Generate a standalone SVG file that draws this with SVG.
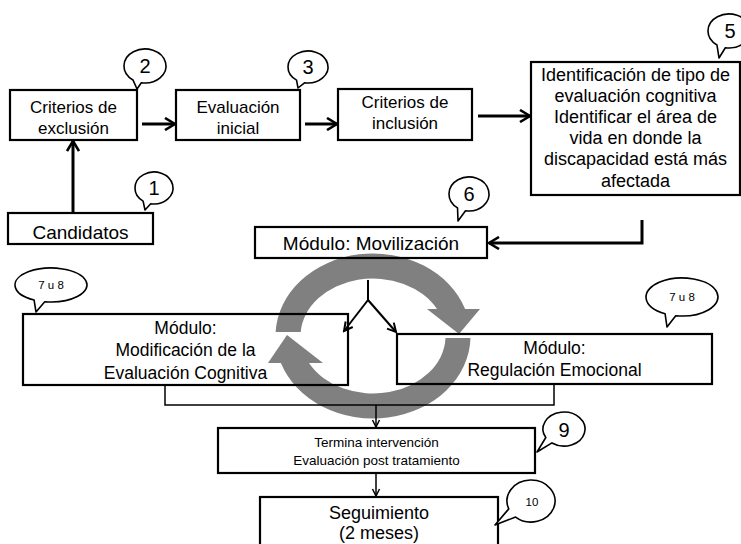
<svg xmlns="http://www.w3.org/2000/svg" width="741" height="544" viewBox="0 0 741 544">
  <defs>
    <style>
      .box { fill: none; stroke: #000; stroke-width: 2.2; }
      .bub { fill: #fff; stroke: #000; stroke-width: 1.6; stroke-linejoin: round; }
      .t { font-family: "Liberation Sans", Arial, sans-serif; fill: #000; text-anchor: middle; }
      .num { font-family: "Liberation Sans", Arial, sans-serif; font-size: 20px; text-anchor: middle; }
      .sm { font-family: "Liberation Sans", Arial, sans-serif; font-size: 11.5px; text-anchor: middle; }
      .thick { fill: none; stroke: #000; stroke-width: 3; }
      .mid { fill: none; stroke: #000; stroke-width: 2; }
      .thin { fill: none; stroke: #000; stroke-width: 1.5; }
      .ring { fill: #808080; }
    </style>
    <marker id="headL" viewBox="0 0 14 14" refX="12" refY="7" markerWidth="14" markerHeight="14" markerUnits="userSpaceOnUse" orient="auto">
      <path d="M2,1 L12,7 L2,13" fill="none" stroke="#000" stroke-width="2.6"/>
    </marker>
    <marker id="headM" viewBox="0 0 12 12" refX="10.5" refY="6" markerWidth="12" markerHeight="12" markerUnits="userSpaceOnUse" orient="auto">
      <path d="M2,1.5 L10.5,6 L2,10.5" fill="none" stroke="#000" stroke-width="2"/>
    </marker>
    <marker id="headS" viewBox="0 0 10 10" refX="9" refY="5" markerWidth="10" markerHeight="10" markerUnits="userSpaceOnUse" orient="auto">
      <path d="M2,1.5 L9,5 L2,8.5" fill="none" stroke="#000" stroke-width="1.5"/>
    </marker>
  </defs>

  <rect width="741" height="544" fill="#fff"/>

  <!-- cycle symbol behind the module boxes -->
  <g id="cycle">
    <path class="ring" d="M275.6,332 A97.5,82.5 0 0 1 465.1,309 L437,309 A72.5,57.5 0 0 0 300.7,332 Z"/>
    <polygon class="ring" points="427,309 480,309 459,334"/>
    <path class="ring" d="M470.5,338 A97.5,82.5 0 0 1 280.9,363 L309,363 A72.5,57.5 0 0 0 445.5,338 Z"/>
    <polygon class="ring" points="268,363 323,363 287,335"/>
  </g>

  <g id="connectors">
    <line class="thick" x1="73" y1="213" x2="73" y2="141" marker-end="url(#headL)"/>
    <line class="thick" x1="142" y1="124" x2="175" y2="124" marker-end="url(#headL)"/>
    <line class="thick" x1="305" y1="124" x2="337" y2="124" marker-end="url(#headL)"/>
    <line class="thick" x1="478" y1="116" x2="530" y2="116" marker-end="url(#headL)"/>
    <polyline class="thick" points="642,220 642,243 489,243" marker-end="url(#headL)"/>
    <line class="mid" x1="368" y1="280" x2="368" y2="300"/>
    <line class="mid" x1="368" y1="300" x2="344" y2="331" marker-end="url(#headM)"/>
    <line class="mid" x1="368" y1="300" x2="396" y2="332" marker-end="url(#headM)"/>
    <polyline class="thin" points="165,385 165,405 554,405 554,384"/>
    <line class="thin" x1="376" y1="405" x2="376" y2="427" marker-end="url(#headS)"/>
    <line class="thin" x1="376" y1="473" x2="376" y2="496" marker-end="url(#headS)"/>
  </g>

  <g id="candidatos">
    <rect class="box" x="8" y="213" width="145" height="31"/>
    <text class="t" x="80.5" y="239" font-size="19">Candidatos</text>
  </g>

  <g id="exclusion">
    <rect class="box" x="10" y="90" width="127" height="50"/>
    <text class="t" x="73.5" y="113" font-size="17">Criterios de</text>
    <text class="t" x="73.5" y="134" font-size="17">exclusión</text>
  </g>

  <g id="evaluacion-inicial">
    <rect class="box" x="176" y="90" width="124" height="50"/>
    <text class="t" x="238" y="113" font-size="17">Evaluación</text>
    <text class="t" x="238" y="134" font-size="17">inicial</text>
  </g>

  <g id="inclusion">
    <rect class="box" x="338" y="89" width="134" height="51"/>
    <text class="t" x="405" y="108" font-size="17">Criterios de</text>
    <text class="t" x="405" y="129" font-size="17">inclusión</text>
  </g>

  <g id="identificacion">
    <rect class="box" x="531" y="62" width="209" height="133"/>
    <text class="t" x="635.5" y="81" font-size="18">Identificación de tipo de</text>
    <text class="t" x="635.5" y="102" font-size="18">evaluación cognitiva</text>
    <text class="t" x="635.5" y="123" font-size="18">Identificar el área de</text>
    <text class="t" x="635.5" y="144" font-size="18">vida en donde la</text>
    <text class="t" x="635.5" y="165" font-size="18">discapacidad está más</text>
    <text class="t" x="635.5" y="187" font-size="18">afectada</text>
  </g>

  <g id="movilizacion">
    <rect class="box" x="255" y="227" width="232" height="31"/>
    <text class="t" x="371" y="250" font-size="19">Módulo: Movilización</text>
  </g>

  <g id="modificacion">
    <rect class="box" x="23" y="314" width="325" height="71"/>
    <text class="t" x="185.5" y="334" font-size="17.5">Módulo:</text>
    <text class="t" x="185.5" y="356" font-size="17.5">Modificación de la</text>
    <text class="t" x="185.5" y="379" font-size="17.5">Evaluación Cognitiva</text>
  </g>

  <g id="regulacion">
    <rect class="box" x="397" y="334" width="315" height="50"/>
    <text class="t" x="554.5" y="354" font-size="17.5">Módulo:</text>
    <text class="t" x="554.5" y="376" font-size="17.5">Regulación Emocional</text>
  </g>

  <g id="termina">
    <rect class="box" x="218" y="428" width="317" height="45"/>
    <text class="t" x="376.5" y="447" font-size="13.5">Termina intervención</text>
    <text class="t" x="376.5" y="465" font-size="13.5">Evaluación post tratamiento</text>
  </g>

  <g id="seguimiento">
    <rect class="box" x="260" y="497" width="238" height="60"/>
    <text class="t" x="379" y="519" font-size="18">Seguimiento</text>
    <text class="t" x="379" y="539" font-size="18">(2 meses)</text>
  </g>

  <!-- numbered callouts -->
  <g id="callout-1">
    <path class="bub" d="M150.7,203.76 L145,210 L143.1,201.11 A19,16 0 1 1 150.7,203.76 Z"/>
    <text class="num" x="154" y="195">1</text>
  </g>
  <g id="callout-2">
    <path class="bub" d="M141.35,82.74 L137,89 L132.95,79.93 A21,17 0 1 1 141.35,82.74 Z"/>
    <text class="num" x="145" y="73">2</text>
  </g>
  <g id="callout-3">
    <path class="bub" d="M304.53,82.76 L298,88 L296.53,80.11 A20,16 0 1 1 304.53,82.76 Z"/>
    <text class="num" x="308" y="74">3</text>
  </g>
  <g id="callout-5">
    <path class="bub" d="M725.35,47.74 L719,58 L716.95,44.93 A21,17 0 1 1 725.35,47.74 Z"/>
    <text class="num" x="730" y="38">5</text>
  </g>
  <g id="callout-6">
    <path class="bub" d="M465.53,210.74 L458,221 L457.53,207.93 A20,17 0 1 1 465.53,210.74 Z"/>
    <text class="num" x="469" y="201">6</text>
  </g>
  <g id="callout-7u8-left">
    <path class="bub" d="M44.75,301.74 L36,312 L34.1,300.01 A36,17 0 1 1 44.75,301.74 Z"/>
    <text class="sm" x="51" y="289">7 u 8</text>
  </g>
  <g id="callout-7u8-right">
    <path class="bub" d="M675.75,315.71 L667,327 L665.1,313.78 A36,19 0 1 1 675.75,315.71 Z"/>
    <text class="sm" x="682" y="301">7 u 8</text>
  </g>
  <g id="callout-9">
    <path class="bub" d="M551.95,442.93 L537,452 L545.81,437.5 A21,17 0 1 1 551.95,442.93 Z"/>
    <text class="num" x="564" y="437">9</text>
  </g>
  <g id="callout-10">
    <path class="bub" d="M515.57,517.09 L495,525 L508.75,508.87 A24,21 0 1 1 515.57,517.09 Z"/>
    <text class="sm" x="532" y="506">10</text>
  </g>
</svg>
